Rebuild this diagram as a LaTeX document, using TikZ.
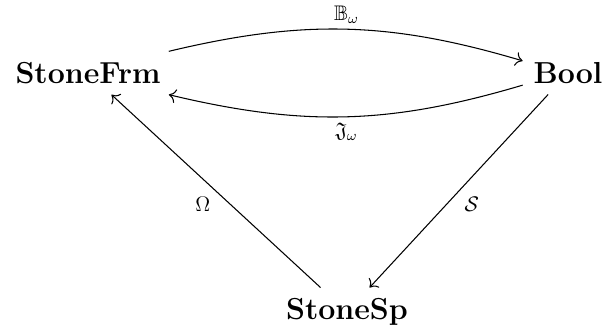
\documentclass[tikz,border=0pt]{standalone}
\usepackage{amssymb}
\usepackage{tikz}
\usetikzlibrary{positioning, arrows.meta}

\begin{document}
\begin{tikzpicture}[
  x=0.02cm, y=-0.02cm,
  obj/.style={font=\LARGE\bfseries, inner sep=6pt, align=center},
  lab/.style={font=\large, inner sep=3pt},
  mor/.style={->, line width=0.6pt},
  >={Computer Modern Rightarrow[length=4pt, width=8pt]}
]
  \useasboundingbox (0,0) rectangle (605,331);

  %% OBJECTS
  \node[obj] (frm) at (88,73) {StoneFrm};
  \node[obj] (bool) at (568,73) {Bool};
  \node[obj] (sp) at (347,312) {StoneSp};

  %% ADJUNCTION BETWEEN FRAMES AND ALGEBRAS
  \draw[mor] (frm) to[bend left=15]
    node[lab, above] {$\mathbb{B}_\omega$} (bool);
  \draw[mor] (bool) to[bend left=15]
    node[lab, below] {$\mathfrak{J}_\omega$} (frm);

  %% DUALITY WITH SPACES
  \draw[mor] (sp) -- node[lab, below left] {$\Omega$} (frm);
  \draw[mor] (bool) -- node[lab, below right] {$\mathcal{S}$} (sp);

\end{tikzpicture}
\end{document}
